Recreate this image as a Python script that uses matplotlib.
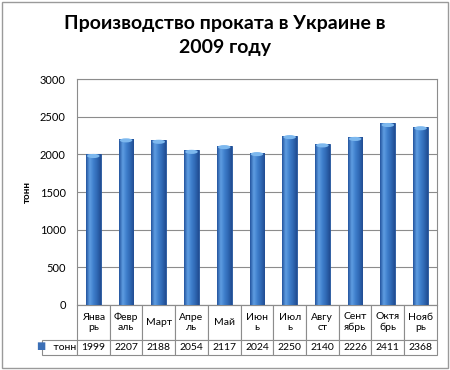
import matplotlib
matplotlib.use('Agg')
import matplotlib.pyplot as plt
import numpy as np
from matplotlib.colors import LinearSegmentedColormap
from matplotlib.patches import Rectangle, Ellipse

plt.rcParams['font.family'] = ['Lato', 'DejaVu Sans']

months = ['Янва\nрь', 'Февр\nаль', 'Март', 'Апре\nль', 'Май', 'Июн\nь',
          'Июл\nь', 'Авгу\nст', 'Сент\nябрь', 'Октя\nбрь', 'Нояб\nрь']
tonnes = [1999, 2207, 2188, 2054, 2117, 2024, 2250, 2140, 2226, 2411, 2368]
yticks = [0, 500, 1000, 1500, 2000, 2500, 3000]

fig = plt.figure(figsize=(4.5, 3.7), dpi=100)
fig.patches.append(Rectangle((0.005, 0.005), 0.99, 0.99, transform=fig.transFigure,
                             fill=False, edgecolor='#9a9a9a', lw=1))
ax = fig.add_axes([0.171, 0.176, 0.8, 0.61])

x = np.arange(len(tonnes))
bars = ax.bar(x, tonnes, width=0.45, color='#3a78c8', edgecolor='#22529a', lw=0.6, zorder=3)

# cylinder-like shading
cmap = LinearSegmentedColormap.from_list('cyl', ['#24559e', '#5f9de2', '#3f7fcc', '#2f68b4', '#214d92'])
grad = np.linspace(0, 1, 64).reshape(1, -1)
for b in bars:
    im = ax.imshow(grad, extent=(b.get_x(), b.get_x() + b.get_width(), 0, b.get_height()),
                   aspect='auto', cmap=cmap, zorder=3.5)
    im.set_clip_path(b)
    ax.add_patch(Ellipse((b.get_x() + b.get_width() / 2, b.get_height() - 20), b.get_width() * 0.85, 55,
                         facecolor='#7db8ee', edgecolor='none', zorder=4))

ax.set_xlim(-0.5, len(tonnes) - 0.5)
ax.set_ylim(0, 3000)
ax.set_yticks(yticks)
ax.tick_params(axis='y', length=0, labelsize=8, pad=8)
ax.set_xticks([])
ax.grid(axis='y', color='#8c8c8c', lw=0.8, zorder=0)
for s in ax.spines.values():
    s.set_color('#8c8c8c')
ax.set_ylabel('тонн', fontsize=7, fontweight='bold', labelpad=6)

tbl = ax.table(cellText=[[str(v) for v in tonnes]], rowLabels=['    тонн'],
               colLabels=months, loc='bottom', cellLoc='center', rowLoc='left')
tbl.auto_set_font_size(False)
tbl.set_fontsize(7.5)
for (r, c), cell in tbl.get_celld().items():
    cell.set_edgecolor('#8c8c8c')
    cell.set_linewidth(0.8)
    cell.PAD = 0.02
    if r == 0:
        cell.set_height(0.155)
    else:
        cell.set_height(0.066)
    if c == -1:
        cell.set_width(0.117)
    else:
        cell.set_width(1 / len(tonnes))
# legend key in row label
fig.text(0.091, 0.063, '■', color='#3b6fb6', fontsize=7, va='center', ha='center')

fig.text(0.5, 0.905, 'Производство проката в Украине в\n2009 году', ha='center', va='center',
         fontsize=14, fontweight='bold', linespacing=1.5)

fig.savefig('out.png', dpi=100)
